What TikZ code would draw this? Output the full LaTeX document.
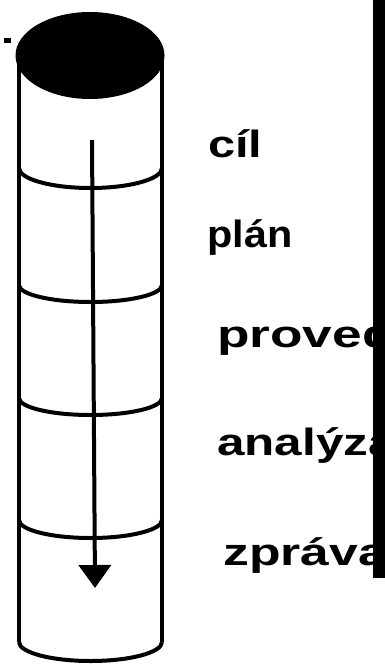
\documentclass[tikz,border=0pt]{standalone}
\usepackage{graphicx}
\usepackage{fontspec}
\setmainfont{Liberation Sans}
\usetikzlibrary{arrows.meta}
\begin{document}
\begin{tikzpicture}[x=1pt,y=-1pt,
  side/.style={line width=4.5pt},
  divider/.style={line width=4pt},
  lbl/.style={anchor=base west, inner sep=0pt, font=\fontsize{38}{40}\selectfont\bfseries},
  flow/.style={line width=4pt, -{Triangle[width=32pt,length=23pt]}}]
\useasboundingbox (0,0) rectangle (385,664);
% cylinder sides
\draw[side] (19,56) -- (19,642);
\draw[side] (162,56) -- (162,642);
% top (filled)
\fill (90,55.5) ellipse [x radius=74.5, y radius=43.5];
\fill (4,38) rectangle (11,43);
% dividers
\draw[divider] (19,168) arc[start angle=180, end angle=0, x radius=71.5, y radius=20];
\draw[divider] (19,285) arc[start angle=180, end angle=0, x radius=71.5, y radius=17];
\draw[divider] (19,398) arc[start angle=180, end angle=0, x radius=71.5, y radius=17];
\draw[divider] (19,520) arc[start angle=180, end angle=0, x radius=71.5, y radius=18];
\draw[divider] (19,642) arc[start angle=180, end angle=0, x radius=71.5, y radius=19];
% arrow
\coordinate (s) at (92,140);
\coordinate (e) at (95,588);
\draw[flow] (s) -- (e);
% labels (cut off by the bar at the right, as in the reference)
\begin{scope}
\clip (0,0) rectangle (373,664);
\node[lbl] (t1) at (208,157) {\scalebox{1.28}[1]{cíl}};
\node[lbl] (t2) at (207,247) {\scalebox{1.09}[1]{plán}};
\node[lbl] (t3) at (217,347) {\scalebox{1.4}[1]{proved}};
\node[lbl] (t4) at (217,455) {\scalebox{1.3}[1]{analýza}};
\node[lbl] (t5) at (223,565) {\scalebox{1.36}[1]{zpráva}};
\end{scope}
% black bar at right
\fill (373,0) rectangle (385,578);
\end{tikzpicture}
\end{document}
